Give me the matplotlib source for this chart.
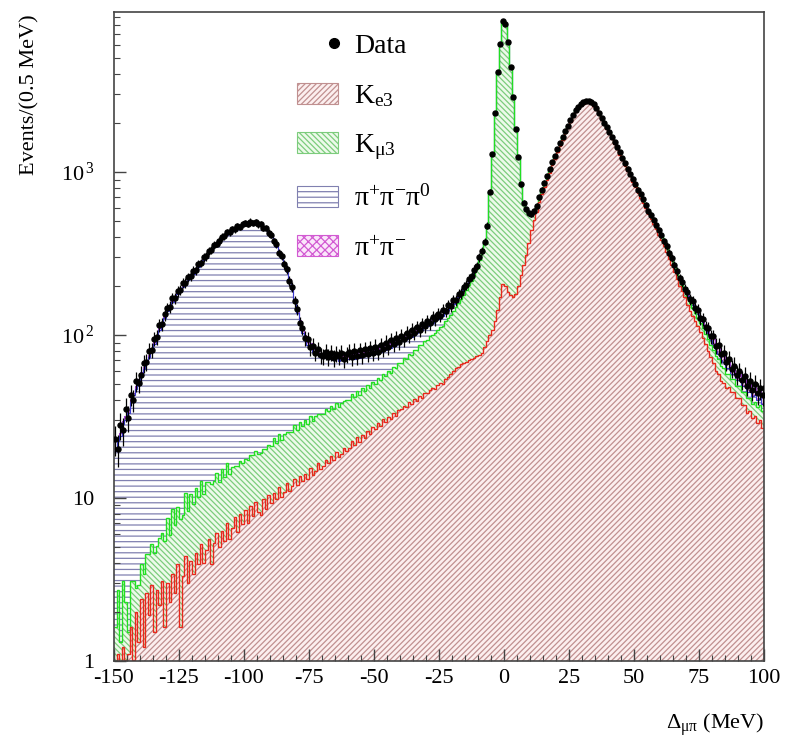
import numpy as np
import matplotlib.pyplot as plt
from matplotlib.patches import Patch
from matplotlib.lines import Line2D
from matplotlib.legend_handler import HandlerLine2D
from matplotlib.ticker import MultipleLocator, FixedLocator, FixedFormatter, LogLocator, NullFormatter

plt.rcParams['font.family'] = ['Liberation Serif', 'DejaVu Serif']
plt.rcParams['mathtext.fontset'] = 'custom'
plt.rcParams['mathtext.rm'] = 'Liberation Serif'
plt.rcParams['mathtext.it'] = 'Liberation Serif:italic'
plt.rcParams['axes.unicode_minus'] = False
plt.rcParams['hatch.linewidth'] = 0.9

# 1 MeV bins from -150 to 100 MeV
edges = np.linspace(-150, 100, 251)
centers = 0.5 * (edges[:-1] + edges[1:])

# Ke3 (bottom of the stack)
ke3 = [
    0.9, 1.1, 0.8, 1.2, 1.0, 1.1, 1.6, 1.0, 2.0, 1.3,
    2.4, 1.2, 2.6, 1.9, 2.9, 1.5, 2.7, 2.2, 3.1, 1.6,
    3.0, 2.3, 3.4, 2.6, 3.9, 1.6, 3.3, 4.4, 3.0, 4.1,
    3.4, 4.6, 3.9, 5.2, 4.0, 4.8, 5.6, 3.9, 5.3, 6.1,
    5.0, 6.3, 5.4, 7.0, 5.6, 6.5, 7.6, 6.2, 8.0, 6.9,
    8.4, 7.0, 8.9, 7.8, 9.5, 8.2, 7.9, 9.8, 8.6, 10.4,
    9.3, 10.8, 9.9, 11.6, 10.2, 10.9, 12.4, 11.0, 11.8, 13.1,
    12.0, 13.6, 12.7, 14.1, 13.0, 15.2, 13.8, 14.6, 16.3, 15.0,
    15.6, 17.1, 16.4, 18.0, 17.0, 19.1, 17.8, 18.6, 20.2, 19.4,
    20.4, 22.3, 21.2, 23.6, 22.0, 24.5, 23.3, 25.8, 24.6, 27.2,
    26.5, 28.9, 27.8, 30.4, 29.1, 31.6, 30.5, 33.2, 32.0, 34.9,
    35.0, 36.9, 36.2, 38.8, 37.6, 40.3, 39.4, 42.1, 41.0, 44.0,
    44.0, 46.3, 47.5, 46.8, 49.6, 51.0, 50.2, 53.8, 55.1, 57.6,
    60.5, 62.8, 63.5, 66.0, 67.2, 68.5, 69.8, 71.0, 72.4, 74.0,
    75, 78, 84, 92, 100, 108, 122, 142, 172, 205,
    200, 183, 175, 172, 178, 200, 232, 268, 310, 368,
    442, 506, 569, 652, 733, 813, 892, 990, 1099, 1207,
    1324, 1444, 1584, 1729, 1872, 2034, 2202, 2352, 2472, 2572,
    2629, 2669, 2689, 2649, 2550, 2411, 2272, 2113, 1964, 1835,
    1716, 1597, 1478, 1379, 1280, 1181, 1092, 1013, 944, 875,
    806, 747, 697, 648, 599, 550, 515, 481, 447, 412,
    381, 352, 322, 293, 269, 244, 220, 201, 186, 172,
    152, 141, 131, 122, 113, 104, 96, 88, 80, 73,
    67, 60, 58, 52, 51, 47, 48, 45, 45, 41,
    41, 37, 37, 33, 34, 31, 32, 29, 30, 27,
]

# Kmu3
kmu3 = [
    0.7, 1.6, 0.5, 1.9, 1.3, 0.4, 1.5, 2.1, 0.8, 1.6,
    1.5, 2.2, 1.9, 2.6, 2.3, 3.1, 2.4, 3.5, 3.0, 3.8,
    4.5, 3.6, 5.2, 4.2, 4.9, 5.8, 4.6, 6.3, 5.3, 6.4,
    5.8, 6.9, 6.2, 7.5, 6.6, 7.8, 7.0, 8.3, 7.4, 8.1,
    7.6, 8.8, 8.1, 9.3, 8.4, 9.0, 8.2, 9.6, 8.8, 9.4,
    9.0, 10.1, 9.5, 10.6, 9.8, 10.3, 11.0, 10.2, 11.5, 10.8,
    11.4, 12.5, 11.9, 13.2, 12.6, 13.8, 13.1, 14.5, 13.7, 14.9,
    14.3, 15.6, 14.9, 16.2, 15.4, 16.8, 16.0, 17.3, 16.5, 17.6,
    17.0, 18.3, 17.6, 18.9, 18.1, 19.4, 18.5, 19.8, 19.0, 20.3,
    19.8, 21.2, 20.4, 21.9, 21.0, 22.6, 21.8, 23.4, 22.5, 24.0,
    23.5, 25.8, 24.9, 27.3, 26.6, 28.9, 28.4, 30.8, 30.5, 32.6,
    32.5, 35.0, 34.8, 37.9, 38.2, 41.0, 41.6, 44.5, 45.3, 47.9,
    48.6, 51.9, 52.5, 56.4, 57.8, 61.6, 64.0, 68.2, 71.5, 76.0,
    80, 86, 93, 101, 110, 120, 132, 145, 160, 182,
    214, 242, 281, 369, 651, 1185, 2171, 3952, 5922, 8290,
    7900, 6110, 4220, 2725, 1670, 1030, 605, 380, 277, 189,
    110, 66, 48, 45, 44, 44, 45, 47, 48, 50,
    50, 50, 50, 45, 42, 40, 42, 42, 42, 42,
    45, 45, 45, 45, 44, 43, 42, 41, 40, 39,
    38, 37, 36, 35, 34, 33, 32, 31, 30, 29,
    28, 27, 27, 26, 25, 24, 24, 23, 22, 22,
    22, 21, 21, 20, 19, 19, 18, 17, 17, 16,
    16, 16, 16, 15, 15, 14, 14, 14, 14, 14,
    14, 14, 13, 13, 12, 11, 10, 9, 9, 8,
    8, 8, 8, 8, 7, 7, 7, 7, 7, 7,
]

# K -> pi+ pi- pi0
k3pi = [
    17.8, 19.7, 22.6, 25.5, 27.9, 31.8, 35.7, 39.6, 44.0, 48.9,
    53.5, 58.1, 63.7, 69.3, 76.0, 83.6, 91.3, 101.0, 110.7, 121.4,
    132.2, 141.9, 151.6, 161.3, 170.0, 179.7, 189.3, 199.0, 208.7, 218.4,
    228.0, 239.7, 252.3, 265.0, 277.6, 291.3, 304.9, 319.6, 333.2, 347.8,
    361.5, 374.2, 385.8, 397.5, 409.2, 419.9, 428.5, 436.1, 443.8, 449.4,
    455.0, 460.6, 464.2, 465.8, 463.4, 457.0, 447.6, 434.2, 419.8, 401.3,
    378.8, 353.2, 324.6, 297.0, 272.4, 245.8, 218.2, 190.5, 162.9, 134.4,
    109.8, 90.2, 75.7, 66.1, 58.6, 52.9, 48.4, 45.7, 43.1, 40.9,
    39.5, 38.4, 37.2, 36.1, 34.8, 34.2, 33.4, 32.7, 31.9, 31.2,
    30.7, 30.4, 30.0, 29.6, 29.3, 28.8, 28.9, 28.4, 27.8, 27.7,
    26.7, 26.2, 25.7, 25.5, 25.3, 25.1, 24.9, 24.6, 24.3, 23.9,
    23.8, 23.4, 22.9, 22.4, 21.9, 21.4, 21.3, 21.2, 21.1, 21.0,
    21.7, 20.4, 19.2, 18.4, 17.6, 17.0, 16.5, 16.0, 15.5, 15.0,
    15, 14, 14, 13, 13, 12, 12, 11, 11, 10,
    9, 8, 8, 7, 7, 6, 6, 5, 5, 4,
    4, 4, 4, 3, 3, 3, 3, 3, 3, 3,
    3, 3, 3, 3, 3, 3, 3, 3, 3, 3,
    3, 3, 3, 3, 3, 3, 3, 3, 3, 3,
    3, 3, 3, 3, 3, 3, 3, 3, 3, 3,
    3, 3, 3, 3, 3, 3, 3, 3, 3, 3,
    3, 3, 3, 3, 3, 3, 3, 3, 3, 3,
    4, 4, 4, 4, 4, 4, 4, 4, 4, 4,
    6, 6, 6, 6, 6, 6, 6, 6, 6, 6,
    6, 6, 6, 5, 5, 5, 5, 4, 4, 4,
    4, 4, 4, 4, 4, 4, 4, 4, 4, 4,
]

# K -> pi+ pi-
kpipi = [
    1, 1, 1, 1, 1.5, 1.5, 1.5, 1.5, 2, 2,
    2, 2, 2, 2, 2, 2, 3, 3, 3, 3,
    3, 3, 3, 3, 4, 4, 4, 4, 4, 4,
    5, 5, 5, 5, 6, 6, 6, 6, 7, 7,
    7, 7, 8, 8, 8, 8, 8, 8, 8, 8,
    8, 8, 8, 8, 8, 8, 8, 8, 8, 8,
    8, 7, 7, 7, 6, 6, 6, 5, 5, 5,
    4, 4, 4, 4, 4, 4, 4, 4, 4, 4,
    4, 4, 4, 4, 4, 4, 4, 4, 4, 4,
    4, 4, 4, 4, 4, 4, 4, 4, 4, 4,
    4, 4, 4, 4, 4, 4, 4, 4, 4, 4,
    4, 4, 4, 4, 4, 4, 4, 4, 4, 4,
    4, 4, 4, 3, 3, 3, 3, 3, 3, 3,
    3, 3, 3, 3, 3, 3, 2, 2, 2, 2,
    2, 2, 2, 2, 2, 1, 1, 1, 1, 1,
    1, 1, 1, 1, 1, 1, 1, 1, 1, 1,
    1, 1, 1, 1, 1, 1, 1, 1, 1, 1,
    3, 3, 3, 3, 3, 3, 3, 3, 3, 3,
    3, 3, 3, 3, 3, 3, 3, 3, 3, 3,
    3, 3, 3, 3, 3, 3, 3, 3, 3, 3,
    3, 3, 3, 3, 3, 3, 3, 3, 3, 3,
    3, 3, 3, 3, 3, 3, 3, 3, 3, 3,
    6, 6, 6, 6, 6, 6, 6, 7, 8, 8,
    9, 8, 8, 8, 8, 7, 6, 6, 5, 5,
    5, 5, 5, 5, 5, 5, 5, 5, 5, 5,
]

# events per bin
data = [
    23, 20, 28, 26, 35, 31, 43, 40, 52, 51,
    57, 67, 68, 80, 81, 95, 97, 115, 117, 134,
    146, 149, 168, 169, 186, 189, 208, 209, 226, 229,
    248, 251, 272, 277, 300, 304, 329, 334, 358, 364,
    378, 400, 404, 426, 427, 448, 447, 466, 462, 480,
    486, 480, 497, 486, 496, 478, 481, 456, 454, 424,
    412, 376, 360, 321, 307, 271, 254, 216, 198, 162,
    144, 119, 111, 96, 95, 84, 86, 78, 82, 75,
    74, 79, 73, 78, 72, 77, 74, 78, 71, 76,
    79, 73, 80, 74, 81, 75, 82, 77, 83, 78,
    85, 79, 87, 82, 90, 85, 93, 88, 96, 91,
    99, 94, 103, 99, 108, 103, 112, 107, 117, 113,
    122, 118, 129, 125, 135, 131, 143, 140, 152, 150,
    164, 163, 179, 181, 198, 203, 222, 230, 252, 266,
    300, 330, 375, 470, 760, 1300, 2300, 4100, 6100, 8500,
    8100, 6300, 4400, 2900, 1850, 1230, 840, 650, 590, 560,
    555, 575, 620, 700, 780, 860, 940, 1040, 1150, 1260,
    1380, 1500, 1640, 1780, 1920, 2080, 2250, 2400, 2520, 2620,
    2680, 2720, 2740, 2700, 2600, 2460, 2320, 2160, 2010, 1880,
    1760, 1640, 1520, 1420, 1320, 1220, 1130, 1050, 980, 910,
    840, 780, 730, 680, 630, 580, 545, 510, 475, 440,
    412, 377, 352, 318, 297, 268, 247, 223, 212, 193,
    183, 166, 162, 146, 143, 127, 125, 112, 110, 98,
    98, 86, 87, 76, 78, 68, 71, 62, 65, 57,
    60, 53, 56, 49, 52, 46, 50, 44, 47, 43,
]

labels = ['K$_{\\mathrm{e3}}$', 'K$_{\\mathrm{μ3}}$',
          '$\\mathrm{π^{+}π^{-}π^{0}}$', '$\\mathrm{π^{+}π^{-}}$']
faces = ['#fcefef', '#edfaea', 'white', '#fbe6fb']
hatch_colors = ['#c09090', '#7ccc7c', '#8080b0', '#d25ad2']
hatches = ['//////', '\\\\\\\\\\\\', '---', 'xxxx']
line_colors = ['#e8281c', '#22e022', '#3a3ad0', '#a040d8']
line_widths = [1.0, 1.0, 0.8, 0.8]


class MarkerRight(HandlerLine2D):
    # single legend marker drawn near the right end of the handle box
    def get_xdata(self, legend, xdescent, ydescent, width, height, fontsize):
        xdata, xmark = super().get_xdata(legend, xdescent, ydescent, width, height, fontsize)
        return [-xdescent + 0.8 * width, -xdescent + width], xmark


fig = plt.figure(figsize=(7.91, 7.42), dpi=100)
ax = fig.add_axes([0.1441, 0.1092, 0.8218, 0.8746])
ax.set_yscale('log')

# stacked histograms
stack = [np.asarray(v, dtype=float) for v in (ke3, kmu3, k3pi, kpipi)]
bottoms = []
tops = []
base = np.full(len(centers), 0.01)
for vals in stack:
    bottoms.append(base)
    base = base + vals
    tops.append(base)

for i in range(4):
    ax.stairs(tops[i], edges, baseline=bottoms[i], fill=True,
              facecolor=faces[i], edgecolor=hatch_colors[i],
              hatch=hatches[i], linewidth=0)
# outlines: upper layers first so lower ones stay visible where they meet
for i in [3, 2, 1, 0]:
    ax.stairs(tops[i], edges, baseline=None, color=line_colors[i], linewidth=line_widths[i])

d = np.asarray(data, dtype=float)
ax.errorbar(centers, d, yerr=np.sqrt(d), fmt='o', color='black',
            ms=3.6, elinewidth=0.9, capsize=0, zorder=5)

ax.set_xlim(-150, 100)
ax.set_ylim(1, 9600)

ax.xaxis.set_major_locator(MultipleLocator(25))
ax.xaxis.set_minor_locator(MultipleLocator(5))
ax.yaxis.set_major_locator(FixedLocator([1, 10, 100, 1000]))
ax.yaxis.set_major_formatter(FixedFormatter(['1', '10', '10$^{\\,2}$', '10$^{\\,3}$']))
ax.yaxis.set_minor_locator(LogLocator(base=10, subs=range(2, 10)))
ax.yaxis.set_minor_formatter(NullFormatter())
ax.tick_params(which='both', direction='in', top=False, right=False,
               color='#444444', labelsize=16)
ax.tick_params(which='major', length=8.6, width=1.0)
ax.tick_params(which='minor', length=4.3, width=0.8)
ax.tick_params(axis='x', pad=6)
ax.tick_params(axis='y', pad=14)
for sp in ax.spines.values():
    sp.set_color('#444444')
    sp.set_linewidth(1.2)

fig.text(764 / 791, 1 - 725 / 742, 'Δ$_{\\mathrm{μπ}}$ (MeV)', ha='right', va='center', fontsize=16)
fig.text(30 / 791, 1 - 14 / 742, 'Events/(0.5 MeV)', rotation=90, ha='center', va='top', fontsize=16)

handles = [Line2D([], [], ls='none', marker='o', color='black', ms=7)]
for i in range(4):
    handles.append(Patch(facecolor=faces[i], edgecolor=hatch_colors[i],
                         hatch=hatches[i], linewidth=0.8))
ax.legend(handles, ['Data'] + labels, loc='upper left',
          bbox_to_anchor=(297 / 791, 1 - 33 / 742), bbox_transform=fig.transFigure,
          frameon=False, fontsize=20, handlelength=1.47, handleheight=0.79,
          handletextpad=0.6, labelspacing=0.84, borderpad=0, borderaxespad=0,
          handler_map={Line2D: MarkerRight()})

fig.savefig('out.png', dpi=100)
